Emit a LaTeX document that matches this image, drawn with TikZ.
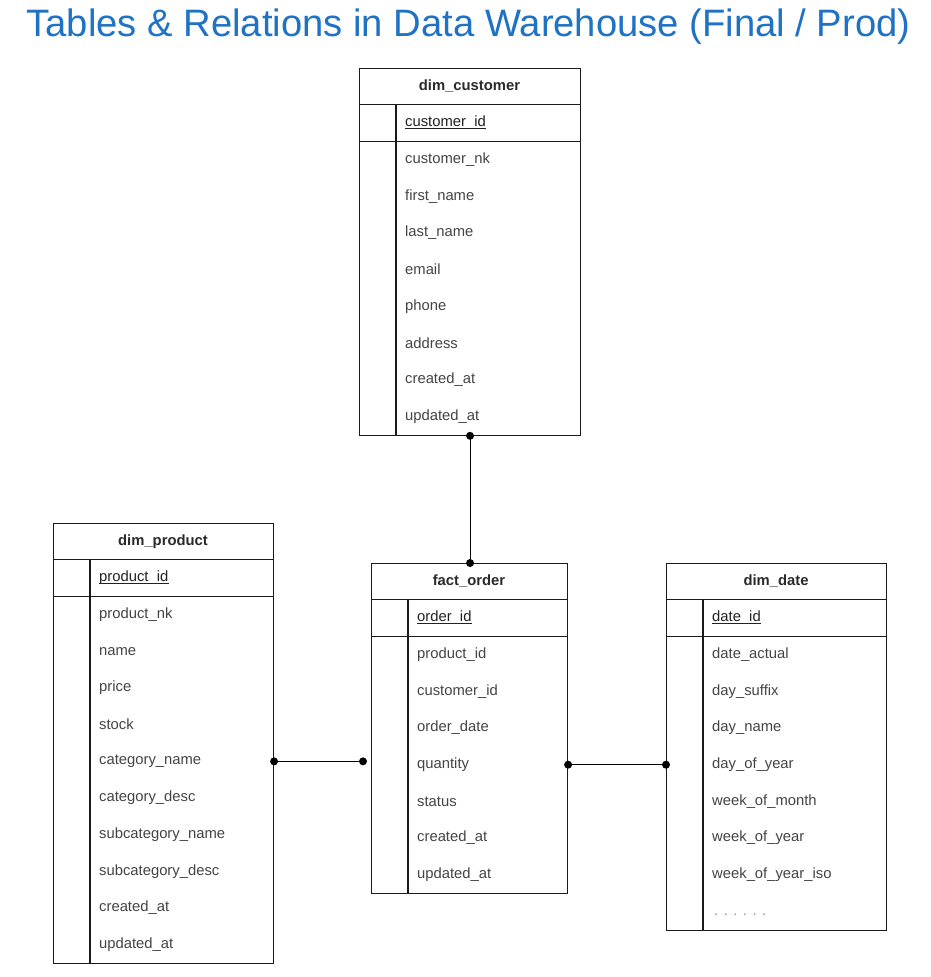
\documentclass[tikz,border=0pt]{standalone}
\usepackage{fontspec}
\setmainfont{Liberation Sans}
\definecolor{titleblue}{HTML}{1F72C4}
\definecolor{linecol}{HTML}{1A1A1A}
\definecolor{fieldcol}{HTML}{444444}
\definecolor{hdrcol}{HTML}{2A2A2A}
\definecolor{pkcol}{HTML}{222222}
\tikzset{
  tblbox/.style={draw=linecol, line width=1.1pt, rectangle, anchor=north west, inner sep=0pt, fill=white},
  tblline/.style={draw=linecol, line width=1.1pt},
  hdrtext/.style={font=\fontsize{14.8}{17}\selectfont\bfseries, text=hdrcol, inner sep=0pt},
  fldtext/.style={font=\fontsize{14.8}{17}\selectfont, text=fieldcol, anchor=west, inner sep=0pt},
  pktext/.style={fldtext, text=pkcol},
  pkline/.style={draw=pkcol, line width=1.2pt},
  reltn/.style={draw=black, line width=1.1pt},
  reldot/.style={fill=black},
}
\newcommand\ertable[7]{% #1 name, #2 left x, #3 top y, #4 width, #5 rows, #6 title, #7 pk
  \node[tblbox, minimum width=#4pt, minimum height={#5*36.67pt}] (#1) at (#2,#3) {};
  \draw[tblline] (#2,{#3+36.67}) -- ({#2+#4},{#3+36.67});
  \draw[tblline] (#2,{#3+73.33}) -- ({#2+#4},{#3+73.33});
  \draw[tblline] ({#2+37},{#3+36.67}) -- ({#2+37},{#3+#5*36.67});
  \node[hdrtext] (#1-title) at ({#2+#4/2},{#3+18.33}) {#6};
  \node[pktext] (#1-pk) at ({#2+46},{#3+55}) {#7};
  \draw[pkline] ([yshift=-2pt]#1-pk.base west) -- ([yshift=-2pt]#1-pk.base east);
}
\begin{document}
\begin{tikzpicture}[x=1pt,y=-1pt]
\useasboundingbox[fill=white] (0,0) rectangle (930,977);
\node[font=\fontsize{38.2}{42}\selectfont, text=titleblue, anchor=base, inner sep=0pt] (title) at (468.5,36) {Tables \& Relations in Data Warehouse (Final / Prod)};

% dim_customer
\ertable{cust}{359}{68}{221}{10}{dim\_customer}{customer\_id}
\foreach \f [count=\i from 0] in {customer\_nk,first\_name,last\_name,email,phone,address,created\_at,updated\_at}
  \node[fldtext] (cust-f\i) at (405,{68+(\i+2.5)*36.67}) {\f};

% dim_product
\ertable{prod}{53}{523}{220}{12}{dim\_product}{product\_id}
\foreach \f [count=\i from 0] in {product\_nk,name,price,stock,category\_name,category\_desc,subcategory\_name,subcategory\_desc,created\_at,updated\_at}
  \node[fldtext] (prod-f\i) at (99,{523+(\i+2.5)*36.67}) {\f};

% fact_order
\ertable{fact}{371}{563}{196}{9}{fact\_order}{order\_id}
\foreach \f [count=\i from 0] in {product\_id,customer\_id,order\_date,quantity,status,created\_at,updated\_at}
  \node[fldtext] (fact-f\i) at (417,{563+(\i+2.5)*36.67}) {\f};

% dim_date
\ertable{date}{666}{563}{220}{10}{dim\_date}{date\_id}
\foreach \f [count=\i from 0] in {date\_actual,day\_suffix,day\_name,day\_of\_year,week\_of\_month,week\_of\_year,week\_of\_year\_iso}
  \node[fldtext] (date-f\i) at (712,{563+(\i+2.5)*36.67}) {\f};
\node[fldtext, text=black!40, anchor=base west] (date-more) at (714,915) {. . . . . .};

% relations
\coordinate (cA) at (cust.south);
\coordinate (cB) at (cust.south |- fact.north);
\draw[reltn] (cA) -- (cB);
\fill[reldot] (cA) circle (4);
\fill[reldot] (cB) circle (4);

\coordinate (pA) at (prod.east |- prod-f4.west);
\coordinate (pB) at ([xshift=-8pt]fact.west |- prod-f4.west);
\draw[reltn] (pA) -- (pB);
\fill[reldot] (pA) circle (4);
\fill[reldot] (pB) circle (4);

\coordinate (dA) at (fact.east |- fact-f3.west);
\coordinate (dB) at (date.west |- fact-f3.west);
\draw[reltn] (dA) -- (dB);
\fill[reldot] (dA) circle (4);
\fill[reldot] (dB) circle (4);
\end{tikzpicture}
\end{document}
